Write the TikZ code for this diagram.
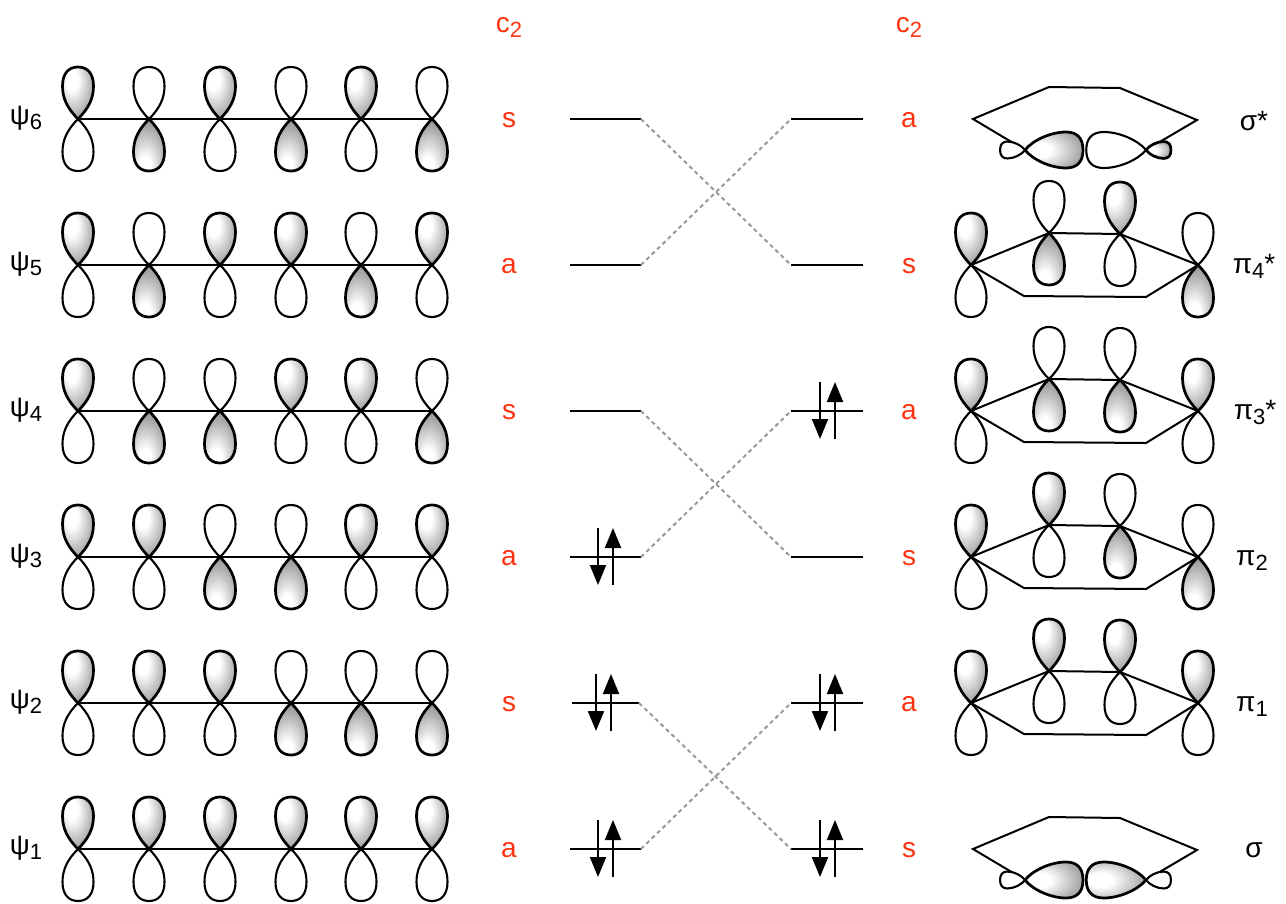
\documentclass[tikz,border=0pt]{standalone}
\usepackage{fontspec}
\setmainfont{Liberation Sans}
\usepackage{xcolor}
\usetikzlibrary{arrows.meta}
\definecolor{SymRed}{HTML}{FF3311}
\definecolor{DashGray}{HTML}{999999}
\pgfdeclareradialshading{lobeup}{\pgfpoint{-12bp}{15bp}}{color(0bp)=(white); color(10bp)=(white); color(32bp)=(black!35); color(55bp)=(black!60); color(72bp)=(black!90)}
\pgfdeclareradialshading{lobedown}{\pgfpoint{-8bp}{-25bp}}{color(0bp)=(white); color(10bp)=(white); color(32bp)=(black!35); color(55bp)=(black!60); color(72bp)=(black!90)}
\pgfdeclareradialshading{lobeside}{\pgfpoint{-15bp}{0bp}}{color(0bp)=(white); color(10bp)=(white); color(32bp)=(black!35); color(55bp)=(black!60); color(72bp)=(black!90)}
\tikzset{
  plain/.style={draw=black, line width=2.1pt, line join=round},
  shadedup/.style={draw=black, line width=2.7pt, line join=round, shading=lobeup},
  shadeddown/.style={draw=black, line width=2.7pt, line join=round, shading=lobedown},
  shadedside/.style={draw=black, line width=2.7pt, line join=round, shading=lobeside},
  topu/.style={shadedup}, topd/.style={plain},
  botu/.style={plain}, botd/.style={shadeddown},
  bond/.style={draw=black, line width=2pt, line join=miter},
  level/.style={draw=black, line width=2pt},
  cross/.style={draw=DashGray, line width=2pt, dash pattern=on 4pt off 3.5pt},
  spin/.style={draw=black, line width=2pt, -{Triangle[length=20pt,width=16pt]}},
  molabel/.style={font=\fontsize{28}{32}\selectfont, inner sep=0pt, anchor=base},
  symlabel/.style={font=\fontsize{28}{32}\selectfont, text=SymRed, inner sep=0pt, anchor=base},
}
\newcommand{\sbs}[1]{\raisebox{-0.2em}{\fontsize{22}{24}\selectfont #1}}
\newcommand{\lobe}[2]{\path[#1,#2] (0,0) .. controls (-11,-11) and (-15.5,-21) .. (-15.5,-33)
  .. controls (-15.5,-46) and (-9,-52) .. (0,-52) .. controls (9,-52) and (15.5,-46) .. (15.5,-33)
  .. controls (15.5,-21) and (11,-11) .. (0,0) -- cycle;}
\newcommand{\fatlobe}[2]{\path[#1,#2] (0,0) .. controls (-10,-8) and (-18,-26) .. (-18,-41)
  .. controls (-18,-52) and (-12,-58) .. (0,-58) .. controls (12,-58) and (18,-52) .. (18,-41)
  .. controls (18,-26) and (10,-8) .. (0,0) -- cycle;}
\newcommand{\pz}[3]{%
  \lobe{style=top#3}{shift={(#1,#2)}}
  \lobe{style=bot#3}{shift={(#1,#2)},rotate=180}
}
\begin{document}
\begin{tikzpicture}[x=1pt,y=-1pt]
  \useasboundingbox (0,0) rectangle (1286,903);

  \foreach \n/\y/\a/\b/\c/\d/\e/\f/\s in {
    6/119/u/d/u/d/u/d/s, 5/265/u/d/u/u/d/u/a, 4/411/u/d/d/u/u/d/s,
    3/557/u/u/d/d/u/u/a, 2/703/u/u/u/d/d/d/s, 1/849/u/u/u/u/u/u/a
  }{
    \node[molabel] (psi\n) at (26,\y+5) {ψ\sbs{\n}};
    \draw[bond] (78,\y) -- (432,\y);
    \pz{78}{\y}{\a}
    \pz{149}{\y}{\b}
    \pz{220}{\y}{\c}
    \pz{291}{\y}{\d}
    \pz{361}{\y}{\e}
    \pz{432}{\y}{\f}
    \node[symlabel] (symL\n) at (509,\y+8) {\s};
  }

  \foreach \n/\y/\s/\w/\m in {
    6/119/a/570/641, 5/265/s/570/641, 4/411/a/570/641,
    3/557/s/570/641, 2/703/a/572/639, 1/849/s/570/641
  }{
    \coordinate (Lw\n) at (\w,\y);
    \coordinate (Le\n) at (\m,\y);
    \coordinate (Rw\n) at (791,\y);
    \coordinate (Re\n) at (863,\y);
    \draw[level] (Lw\n) -- (Le\n);
    \draw[level] (Rw\n) -- (Re\n);
    \node[symlabel] (symR\n) at (909,\y+8) {\s};
  }

  \foreach \p/\q in {6/5, 5/6, 4/3, 3/4, 2/1, 1/2}{
    \draw[cross] (Le\p) -- (Rw\q);
  }

  \foreach \k in {Le3, Le2, Le1}{
    \draw[spin] ([xshift=-43pt,yshift=29pt]\k) -- ([xshift=-43pt,yshift=-28pt]\k);
    \draw[spin] ([xshift=-28pt,yshift=-28pt]\k) -- ([xshift=-28pt,yshift=29pt]\k);
  }
  \foreach \k in {Rw4, Rw2, Rw1}{
    \draw[spin] ([xshift=29pt,yshift=29pt]\k) -- ([xshift=29pt,yshift=-28pt]\k);
    \draw[spin] ([xshift=44pt,yshift=-28pt]\k) -- ([xshift=44pt,yshift=29pt]\k);
  }

  \node[symlabel] (c2L) at (509,32) {c\sbs{2}};
  \node[symlabel] (c2R) at (909,32) {c\sbs{2}};

  \foreach \y/\a/\b/\c/\d/\t/\lx in {
    265/u/d/u/d/{π\sbs{4}*}/1254, 411/u/d/d/u/{π\sbs{3}*}/1255,
    557/u/u/d/d/{π\sbs{2}}/1252, 703/u/u/u/u/{π\sbs{1}}/1252
  }{
    \draw[bond] (971,\y) -- (1049,\y-32) -- (1120,\y-31) -- (1198,\y)
      -- (1146,\y+32) -- (1024,\y+31) -- cycle;
    \pz{971}{\y}{\a}
    \pz{1049}{\y-32}{\b}
    \pz{1120}{\y-31}{\c}
    \pz{1198}{\y}{\d}
    \node[molabel] at (\lx,\y+8) {\t};
  }

  \foreach \y/\sb/\sc/\t/\ly in {
    119/shadedside/plain/{σ*}/130, 849/shadedside/shadedside/{σ}/857
  }{
    \draw[bond] (1025,\y+31) -- (973,\y) -- (1049,\y-32) -- (1120,\y-31) -- (1197,\y+1) -- (1146,\y+31);
    \fatlobe{plain,fill=white}{shift={(1025,\y+31)},rotate=90,yscale=0.43,xscale=0.47}
    \fatlobe{\sb}{shift={(1025,\y+31)},rotate=-90}
    \fatlobe{\sc}{shift={(1146,\y+31)},rotate=90,yscale=1.03}
    \node[molabel] at (1254,\ly) {\t};
  }
  \fatlobe{shadedside}{shift={(1146,150)},rotate=-90,yscale=0.43,xscale=0.47}
  \fatlobe{plain,fill=white}{shift={(1146,880)},rotate=-90,yscale=0.43,xscale=0.47}
\end{tikzpicture}
\end{document}
